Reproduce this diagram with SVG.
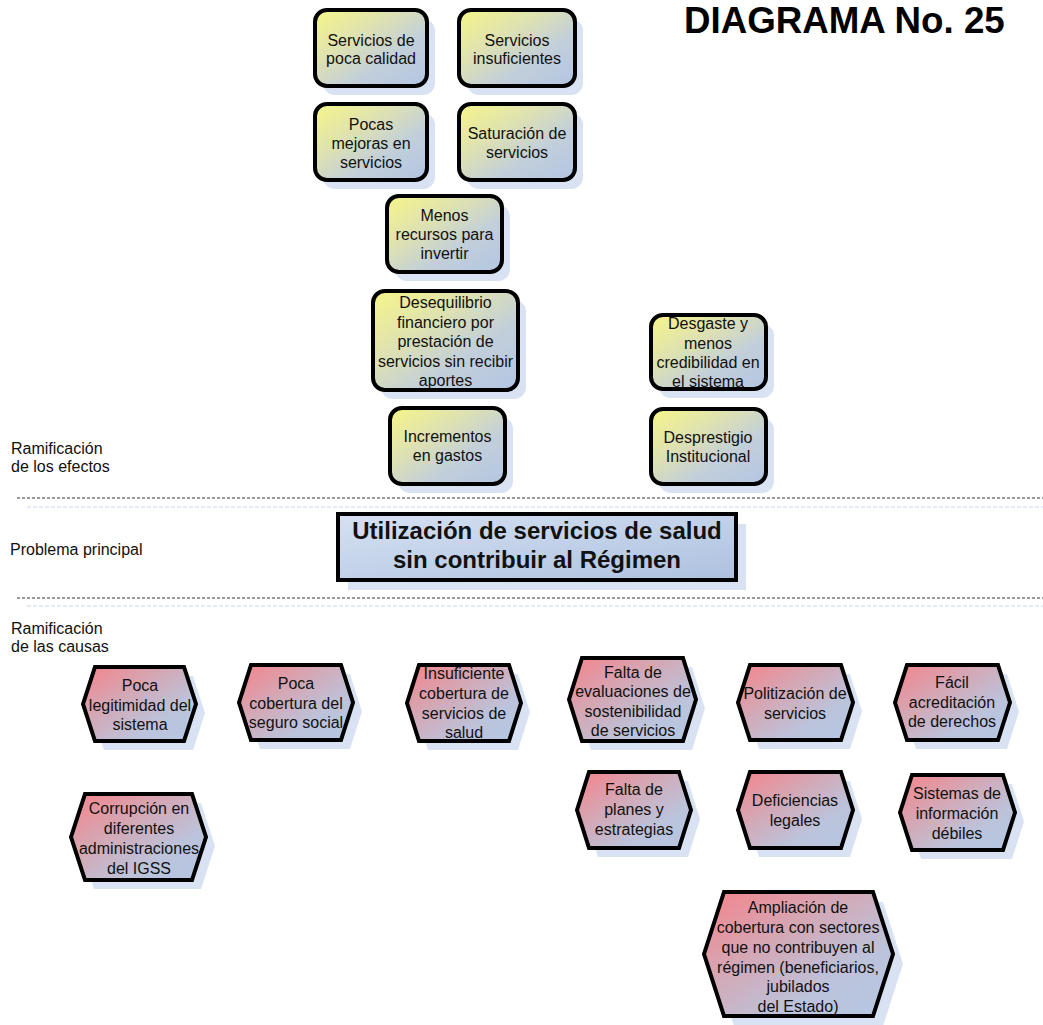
<svg xmlns="http://www.w3.org/2000/svg" width="1043" height="1025" viewBox="0 0 1043 1025">
  <defs>
    <linearGradient id="gEffect" x1="0" y1="0" x2="1" y2="1">
      <stop offset="0" stop-color="#f6f688"/>
      <stop offset="0.35" stop-color="#dfe2b0"/>
      <stop offset="0.65" stop-color="#c2cfda"/>
      <stop offset="1" stop-color="#b3c5e3"/>
    </linearGradient>
    <linearGradient id="gCause" x1="0" y1="0" x2="1" y2="1">
      <stop offset="0" stop-color="#f5838a"/>
      <stop offset="0.4" stop-color="#d2aab8"/>
      <stop offset="0.7" stop-color="#bcc3db"/>
      <stop offset="1" stop-color="#b5c7e3"/>
    </linearGradient>
    <linearGradient id="gMain" x1="0" y1="0" x2="1" y2="1">
      <stop offset="0" stop-color="#d6e1f2"/>
      <stop offset="1" stop-color="#adc1df"/>
    </linearGradient>
    <style>
      .sh { fill: #d8e2f2; stroke: none; }
      .box { fill: url(#gEffect); stroke: #000; stroke-width: 4; }
      .hex { fill: url(#gCause); stroke: #000; stroke-width: 4; }
      .main { fill: url(#gMain); stroke: #000; stroke-width: 4; }
      .t { font-family: "Liberation Sans", Arial, sans-serif; font-size: 16px; fill: #111; text-anchor: middle; }
      .lbl { font-family: "Liberation Sans", Arial, sans-serif; font-size: 16px; fill: #111; }
      .mt { font-family: "Liberation Sans", Arial, sans-serif; font-size: 24px; font-weight: bold; fill: #111; text-anchor: middle; }
      .title { font-family: "Liberation Sans", Arial, sans-serif; font-size: 36.7px; font-weight: bold; fill: #000; }
      .sep { stroke: #333; stroke-width: 1; stroke-dasharray: 3 2; fill: none; }
      .sepf { stroke: #c8d6ec; stroke-width: 1; stroke-dasharray: 4 2; fill: none; }
    </style>
  </defs>

  <rect width="1043" height="1025" fill="#fff"/>

  <!-- heading -->
  <text class="title" x="684" y="33">DIAGRAMA No. 25</text>

  <!-- band labels -->
  <g id="band-labels">
    <text class="lbl" x="11" y="454">Ramificación</text>
    <text class="lbl" x="11" y="472">de los efectos</text>
    <text class="lbl" x="10" y="555">Problema principal</text>
    <text class="lbl" x="11" y="634">Ramificación</text>
    <text class="lbl" x="11" y="652">de las causas</text>
  </g>

  <!-- band separators -->
  <g id="separators">
    <line class="sep" x1="17" y1="498" x2="1043" y2="498"/>
    <line class="sepf" x1="27" y1="507" x2="1043" y2="507"/>
    <line class="sep" x1="17" y1="598" x2="1043" y2="598"/>
    <line class="sepf" x1="27" y1="606" x2="1043" y2="606"/>
  </g>

  <g id="connectors"></g>

  <!-- effects -->
  <g id="e-servicios-poca-calidad">
    <rect class="sh" x="323" y="19" width="112" height="76" rx="12"/>
    <rect class="box" x="315" y="10" width="112" height="76" rx="12"/>
    <text class="t"><tspan x="371" y="46">Servicios de</tspan><tspan x="371" y="64">poca calidad</tspan></text>
  </g>
  <g id="e-servicios-insuficientes">
    <rect class="sh" x="467" y="19" width="116" height="76" rx="12"/>
    <rect class="box" x="459" y="10" width="116" height="76" rx="12"/>
    <text class="t"><tspan x="517" y="46">Servicios</tspan><tspan x="517" y="64">insuficientes</tspan></text>
  </g>
  <g id="e-pocas-mejoras">
    <rect class="sh" x="323" y="113" width="112" height="76" rx="12"/>
    <rect class="box" x="315" y="104" width="112" height="76" rx="12"/>
    <text class="t"><tspan x="371" y="130">Pocas</tspan><tspan x="371" y="149">mejoras en</tspan><tspan x="371" y="168">servicios</tspan></text>
  </g>
  <g id="e-saturacion">
    <rect class="sh" x="467" y="113" width="116" height="76" rx="12"/>
    <rect class="box" x="459" y="104" width="116" height="76" rx="12"/>
    <text class="t"><tspan x="517" y="139">Saturación de</tspan><tspan x="517" y="158">servicios</tspan></text>
  </g>
  <g id="e-menos-recursos">
    <rect class="sh" x="395" y="205" width="115" height="76" rx="12"/>
    <rect class="box" x="387" y="196" width="115" height="76" rx="12"/>
    <text class="t"><tspan x="444.5" y="221">Menos</tspan><tspan x="444.5" y="240">recursos para</tspan><tspan x="444.5" y="259">invertir</tspan></text>
  </g>
  <g id="e-desequilibrio">
    <rect class="sh" x="381" y="300" width="145" height="99" rx="12"/>
    <rect class="box" x="373" y="291" width="145" height="99" rx="12"/>
    <text class="t"><tspan x="445.5" y="308">Desequilibrio</tspan><tspan x="445.5" y="327.5">financiero por</tspan><tspan x="445.5" y="347">prestación de</tspan><tspan x="445.5" y="366.5">servicios sin recibir</tspan><tspan x="445.5" y="386">aportes</tspan></text>
  </g>
  <g id="e-incrementos">
    <rect class="sh" x="398" y="417" width="115" height="76" rx="12"/>
    <rect class="box" x="390" y="408" width="115" height="76" rx="12"/>
    <text class="t"><tspan x="447.5" y="442">Incrementos</tspan><tspan x="447.5" y="461">en gastos</tspan></text>
  </g>
  <g id="e-desgaste">
    <rect class="sh" x="659" y="324" width="115" height="74" rx="12"/>
    <rect class="box" x="651" y="315" width="115" height="74" rx="12"/>
    <text class="t"><tspan x="708" y="329">Desgaste y</tspan><tspan x="708" y="348.5">menos</tspan><tspan x="708" y="368">credibilidad en</tspan><tspan x="708" y="387">el sistema</tspan></text>
  </g>
  <g id="e-desprestigio">
    <rect class="sh" x="659" y="418" width="115" height="75" rx="12"/>
    <rect class="box" x="651" y="409" width="115" height="75" rx="12"/>
    <text class="t"><tspan x="708" y="443">Desprestigio</tspan><tspan x="708" y="462">Institucional</tspan></text>
  </g>

  <!-- central problem -->
  <g id="problema-principal">
    <rect class="sh" x="348" y="524" width="398" height="66"/>
    <rect class="main" x="338" y="514" width="398" height="66"/>
    <text class="mt"><tspan x="537" y="539">Utilización de servicios de salud</tspan><tspan x="537" y="568">sin contribuir al Régimen</tspan></text>
  </g>

  <!-- causes -->
  <g id="c-poca-legitimidad">
    <polygon class="sh" transform="translate(9,9)" points="83,704 95,667 184,667 196,704 184,741 95,741"/>
    <polygon class="hex" points="83,704 95,667 184,667 196,704 184,741 95,741"/>
    <text class="t"><tspan x="140" y="691">Poca</tspan><tspan x="140" y="711">legitimidad del</tspan><tspan x="140" y="730">sistema</tspan></text>
  </g>
  <g id="c-poca-cobertura">
    <polygon class="sh" transform="translate(9,9)" points="239,702.5 251,665 341,665 353,702.5 341,740 251,740"/>
    <polygon class="hex" points="239,702.5 251,665 341,665 353,702.5 341,740 251,740"/>
    <text class="t"><tspan x="296" y="689">Poca</tspan><tspan x="296" y="709">cobertura del</tspan><tspan x="296" y="728">seguro social</tspan></text>
  </g>
  <g id="c-insuficiente-cobertura">
    <polygon class="sh" transform="translate(9,9)" points="407,703 419,665 509,665 521,703 509,741 419,741"/>
    <polygon class="hex" points="407,703 419,665 509,665 521,703 509,741 419,741"/>
    <text class="t"><tspan x="464" y="679">Insuficiente</tspan><tspan x="464" y="699">cobertura de</tspan><tspan x="464" y="719">servicios de</tspan><tspan x="464" y="738">salud</tspan></text>
  </g>
  <g id="c-falta-evaluaciones">
    <polygon class="sh" transform="translate(9,9)" points="569,699.5 582,658 683,658 696,699.5 683,741 582,741"/>
    <polygon class="hex" points="569,699.5 582,658 683,658 696,699.5 683,741 582,741"/>
    <text class="t"><tspan x="633" y="678">Falta de</tspan><tspan x="633" y="697">evaluaciones de</tspan><tspan x="633" y="716.5">sostenibilidad</tspan><tspan x="633" y="736">de servicios</tspan></text>
  </g>
  <g id="c-politizacion">
    <polygon class="sh" transform="translate(9,9)" points="738,702.5 750,665 841,665 853,702.5 841,740 750,740"/>
    <polygon class="hex" points="738,702.5 750,665 841,665 853,702.5 841,740 750,740"/>
    <text class="t"><tspan x="795" y="699">Politización de</tspan><tspan x="795" y="719">servicios</tspan></text>
  </g>
  <g id="c-facil-acreditacion">
    <polygon class="sh" transform="translate(9,9)" points="895,702.5 907,665 998,665 1010,702.5 998,740 907,740"/>
    <polygon class="hex" points="895,702.5 907,665 998,665 1010,702.5 998,740 907,740"/>
    <text class="t"><tspan x="952" y="688">Fácil</tspan><tspan x="952" y="708">acreditación</tspan><tspan x="952" y="727">de derechos</tspan></text>
  </g>
  <g id="c-falta-planes">
    <polygon class="sh" transform="translate(9,9)" points="577,810 589,772 679,772 691,810 679,848 589,848"/>
    <polygon class="hex" points="577,810 589,772 679,772 691,810 679,848 589,848"/>
    <text class="t"><tspan x="634" y="795">Falta de</tspan><tspan x="634" y="815">planes y</tspan><tspan x="634" y="835">estrategias</tspan></text>
  </g>
  <g id="c-deficiencias-legales">
    <polygon class="sh" transform="translate(9,9)" points="738,810 750,772 841,772 853,810 841,848 750,848"/>
    <polygon class="hex" points="738,810 750,772 841,772 853,810 841,848 750,848"/>
    <text class="t"><tspan x="795" y="806">Deficiencias</tspan><tspan x="795" y="826">legales</tspan></text>
  </g>
  <g id="c-sistemas-informacion">
    <polygon class="sh" transform="translate(9,9)" points="900,812.5 912,775 1003,775 1015,812.5 1003,850 912,850"/>
    <polygon class="hex" points="900,812.5 912,775 1003,775 1015,812.5 1003,850 912,850"/>
    <text class="t"><tspan x="957" y="799">Sistemas de</tspan><tspan x="957" y="819">información</tspan><tspan x="957" y="839">débiles</tspan></text>
  </g>
  <g id="c-corrupcion">
    <polygon class="sh" transform="translate(9,9)" points="71,837 85,794 192,794 206,837 192,880 85,880"/>
    <polygon class="hex" points="71,837 85,794 192,794 206,837 192,880 85,880"/>
    <text class="t"><tspan x="139" y="814">Corrupción en</tspan><tspan x="139" y="834">diferentes</tspan><tspan x="139" y="854">administraciones</tspan><tspan x="139" y="874">del IGSS</tspan></text>
  </g>
  <g id="c-ampliacion-cobertura">
    <polygon class="sh" transform="translate(10,10)" points="704,954 724,892 873,892 893,954 873,1016 724,1016"/>
    <polygon class="hex" points="704,954 724,892 873,892 893,954 873,1016 724,1016"/>
    <text class="t"><tspan x="798" y="913">Ampliación de</tspan><tspan x="798" y="933">cobertura con sectores</tspan><tspan x="798" y="953">que no contribuyen al</tspan><tspan x="798" y="973">régimen (beneficiarios,</tspan><tspan x="798" y="992">jubilados</tspan><tspan x="798" y="1012">del Estado)</tspan></text>
  </g>
</svg>
